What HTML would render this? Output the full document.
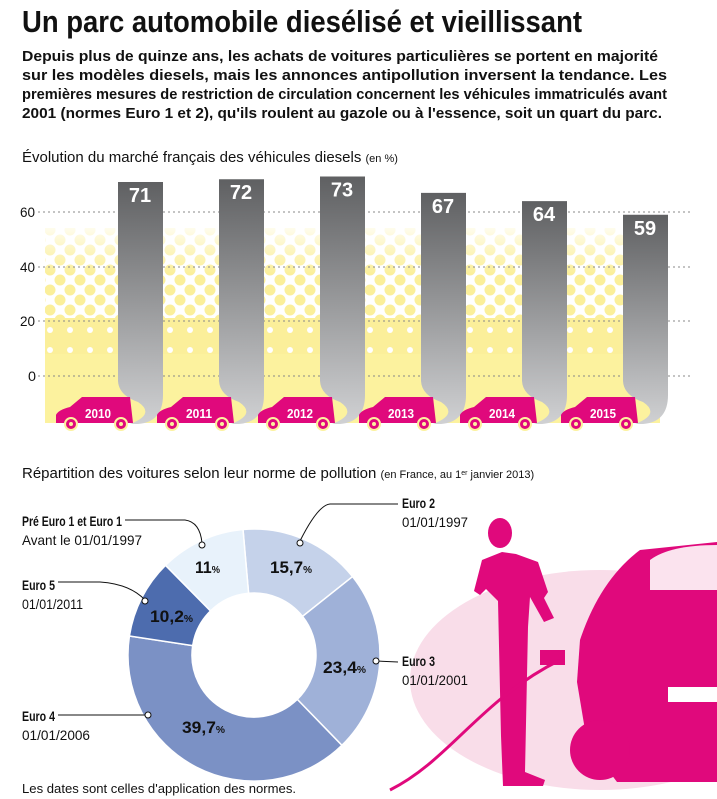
<!DOCTYPE html>
<html><head><meta charset="utf-8"><style>
body{margin:0;width:717px;height:799px;background:#fff;overflow:hidden;font-family:"Liberation Sans",sans-serif}
svg{position:absolute;left:0;top:0}
</style></head><body>
<svg id="s" width="717" height="799" viewBox="0 0 717 799" xmlns="http://www.w3.org/2000/svg">
<defs>
<linearGradient id="g" x1="0" y1="0" x2="0" y2="1"><stop offset="0" stop-color="#5f6062"/><stop offset="1" stop-color="#d0d1d3"/></linearGradient>
<pattern id="dots" width="20" height="20" patternUnits="userSpaceOnUse"><circle cx="10" cy="10" r="5.5" fill="#fbef9a"/><circle cx="0" cy="0" r="5.5" fill="#fbef9a"/><circle cx="20" cy="0" r="5.5" fill="#fbef9a"/><circle cx="0" cy="20" r="5.5" fill="#fbef9a"/><circle cx="20" cy="20" r="5.5" fill="#fbef9a"/></pattern>
<pattern id="dots2" width="20" height="20" patternUnits="userSpaceOnUse"><rect width="20" height="20" fill="#fbef9a"/><circle cx="10" cy="10" r="3" fill="#fff"/></pattern>
<linearGradient id="yf" x1="0" y1="0" x2="0" y2="1"><stop offset="0" stop-color="#fff" stop-opacity="0.9"/><stop offset="0.5" stop-color="#fff" stop-opacity="0.4"/><stop offset="1" stop-color="#fff" stop-opacity="0"/></linearGradient>
</defs>
<text x="22" y="32" font-size="31" font-weight="bold" fill="#111" textLength="560" lengthAdjust="spacingAndGlyphs">Un parc automobile diesélisé et vieillissant</text>
<g font-size="14.5" font-weight="bold" fill="#111">
<text x="22" y="61" textLength="636" lengthAdjust="spacingAndGlyphs">Depuis plus de quinze ans, les achats de voitures particulières se portent en majorité</text>
<text x="22" y="80" textLength="645" lengthAdjust="spacingAndGlyphs">sur les modèles diesels, mais les annonces antipollution inversent la tendance. Les</text>
<text x="22" y="99" textLength="645" lengthAdjust="spacingAndGlyphs">premières mesures de restriction de circulation concernent les véhicules immatriculés avant</text>
<text x="22" y="118" textLength="640" lengthAdjust="spacingAndGlyphs">2001 (normes Euro 1 et 2), qu'ils roulent au gazole ou à l'essence, soit un quart du parc.</text>
</g>
<text x="22" y="162" font-size="15" fill="#111">Évolution du marché français des véhicules diesels <tspan font-size="11">(en %)</tspan></text>
<rect x="45" y="328" width="615" height="95" fill="#fcf29e"/>
<rect x="45" y="318" width="615" height="36" fill="url(#dots2)"/>
<rect x="45" y="228" width="615" height="92" fill="url(#dots)"/>
<rect x="45" y="224" width="615" height="50" fill="url(#yf)"/>
<g stroke="#888" stroke-dasharray="2,3" stroke-width="1"><line x1="38" y1="212" x2="690" y2="212"/><line x1="38" y1="267" x2="690" y2="267"/><line x1="38" y1="321" x2="690" y2="321"/><line x1="38" y1="376" x2="690" y2="376"/></g>
<g font-size="14" fill="#111"><text x="20" y="217" textLength="15" lengthAdjust="spacingAndGlyphs">60</text><text x="20" y="272" textLength="15" lengthAdjust="spacingAndGlyphs">40</text><text x="20" y="326" textLength="15" lengthAdjust="spacingAndGlyphs">20</text><text x="28" y="381" textLength="8" lengthAdjust="spacingAndGlyphs">0</text></g>
<g id="bars"></g>
<text x="22" y="478" font-size="15" fill="#111">Répartition des voitures selon leur norme de pollution <tspan font-size="11">(en France, au 1<tspan baseline-shift="super" font-size="7">er</tspan> janvier 2013)</tspan></text>
<ellipse cx="600" cy="680" rx="190" ry="110" fill="#f9dde9"/>
<g fill="#e0097c">
<ellipse cx="500" cy="533" rx="12" ry="15"/>
<path d="M482 560 l20 -8 l14 2 l22 8 l10 30 l-4 6 l10 20 l-10 4 l-14 -25 l-2 30 l-3 145 l20 8 l-2 6 l-40 0 l-2 -50 l-3 -135 l-12 -12 l-6 6 l-6 -4 z"/>
<path d="M580 640 q20 -60 60 -90 l77 -8 l0 240 l-100 0 l-30 -40 l-10 -60 z"/>
<circle cx="600" cy="750" r="30"/>
<path d="M540 650 l25 0 l0 15 l-25 0 z"/>
</g>
<path d="M650 560 q20 -15 67 -15 l0 45 l-67 0 z" fill="#fbe3ee"/>
<path d="M390 790 C 450 760 480 700 560 660" stroke="#e0097c" stroke-width="3" fill="none"/>
<rect x="668" y="687" width="49" height="15" fill="#fff"/>
<g id="donut"></g>
<g fill="#111" font-weight="bold">
<text x="195" y="573" font-size="17" textLength="25" lengthAdjust="spacingAndGlyphs">11<tspan font-size="10">%</tspan></text>
<text x="270" y="573" font-size="17" textLength="42" lengthAdjust="spacingAndGlyphs">15,7<tspan font-size="10">%</tspan></text>
<text x="150" y="622" font-size="17" textLength="43" lengthAdjust="spacingAndGlyphs">10,2<tspan font-size="10">%</tspan></text>
<text x="323" y="673" font-size="17" textLength="43" lengthAdjust="spacingAndGlyphs">23,4<tspan font-size="10">%</tspan></text>
<text x="182" y="733" font-size="17" textLength="43" lengthAdjust="spacingAndGlyphs">39,7<tspan font-size="10">%</tspan></text>
</g>
<g font-size="14" fill="#111">
<text x="22" y="526" font-weight="bold" textLength="100" lengthAdjust="spacingAndGlyphs">Pré Euro 1 et Euro 1</text><text x="22" y="545" textLength="120" lengthAdjust="spacingAndGlyphs">Avant le 01/01/1997</text>
<text x="22" y="590" font-weight="bold" textLength="33" lengthAdjust="spacingAndGlyphs">Euro 5</text><text x="22" y="609" textLength="61" lengthAdjust="spacingAndGlyphs">01/01/2011</text>
<text x="22" y="721" font-weight="bold" textLength="33" lengthAdjust="spacingAndGlyphs">Euro 4</text><text x="22" y="740" textLength="68" lengthAdjust="spacingAndGlyphs">01/01/2006</text>
<text x="402" y="508" font-weight="bold" textLength="33" lengthAdjust="spacingAndGlyphs">Euro 2</text><text x="402" y="527" textLength="66" lengthAdjust="spacingAndGlyphs">01/01/1997</text>
<text x="402" y="666" font-weight="bold" textLength="33" lengthAdjust="spacingAndGlyphs">Euro 3</text><text x="402" y="685" textLength="66" lengthAdjust="spacingAndGlyphs">01/01/2001</text>
<text x="22" y="793" font-size="13" textLength="274" lengthAdjust="spacingAndGlyphs">Les dates sont celles d'application des normes.</text>
</g>
<g fill="none" stroke="#111" stroke-width="1">
<path d="M125 520 L185 520 Q200 522 202 543"/>
<path d="M58 582 L100 582 Q130 584 145 600"/>
<path d="M58 715 L148 715"/>
<path d="M398 504 L330 504 Q318 505 300 541"/>
<path d="M398 662 L376 661"/>
</g>
<g fill="#fff" stroke="#111"><circle cx="202" cy="545" r="3"/><circle cx="145" cy="601" r="3"/><circle cx="148" cy="715" r="3"/><circle cx="300" cy="543" r="3"/><circle cx="376" cy="661" r="3"/></g>
</svg>
<script>
(function(){
var NS="http://www.w3.org/2000/svg";
function el(p,t,a,txt){var e=document.createElementNS(NS,t);for(var k in a)e.setAttribute(k,a[k]);if(txt)e.textContent=txt;p.appendChild(e);return e;}
var bars=document.getElementById('bars');
var vals=[71,72,73,67,64,59],yrs=[2010,2011,2012,2013,2014,2015];
for(var i=0;i<6;i++){var x=118+i*101,ty=376-vals[i]*2.733;
el(bars,'path',{d:'M'+x+' '+ty+' L'+(x+45)+' '+ty+' L'+(x+45)+' 395 Q'+(x+45)+' 422 '+(x+20)+' 424 L'+(x+12)+' 424 Q'+(x+38)+' 414 '+(x+20)+' 402 Q'+x+' 395 '+x+' 380 Z',fill:'url(#g)'});
el(bars,'text',{x:x+22,y:ty+20,'font-size':20,'font-weight':'bold',fill:'#fff','text-anchor':'middle'},String(vals[i]));
var cx=x-62;
el(bars,'path',{d:'M'+cx+' 423 l0 -8 q2 -5 14 -8 l12 -10 l48 0 l3 26 z',fill:'#e0097c'});
el(bars,'circle',{cx:cx+15,cy:424,r:6,fill:'#e0097c',stroke:'#fcf29e','stroke-width':2});
el(bars,'circle',{cx:cx+65,cy:424,r:6,fill:'#e0097c',stroke:'#fcf29e','stroke-width':2});
el(bars,'circle',{cx:cx+15,cy:424,r:2,fill:'#fcf29e'});el(bars,'circle',{cx:cx+65,cy:424,r:2,fill:'#fcf29e'});
el(bars,'text',{x:cx+42,y:418,'font-size':13,'font-weight':'bold',fill:'#fff','text-anchor':'middle',textLength:26,lengthAdjust:'spacingAndGlyphs'},String(yrs[i]));}
var d=document.getElementById('donut'),cx0=254,cy0=655,R=126,r=62;
var segs=[[15.7,'#c5d2ea'],[23.4,'#9fb1d8'],[39.7,'#7b91c5'],[10.2,'#4d6cae'],[11,'#e8f2fb']];
var a=-5;
segs.forEach(function(s){var b=a+s[0]*3.6;function p(ang,rad){var t=(ang-90)*Math.PI/180;return (cx0+rad*Math.cos(t)).toFixed(1)+' '+(cy0+rad*Math.sin(t)).toFixed(1);}
var lg=(b-a)>180?1:0;
el(d,'path',{d:'M'+p(a,R)+' A'+R+' '+R+' 0 '+lg+' 1 '+p(b,R)+' L'+p(b,r)+' A'+r+' '+r+' 0 '+lg+' 0 '+p(a,r)+' Z',fill:s[1],stroke:'#fff','stroke-width':1.5});a=b;});
})();
</script>
</body></html>
